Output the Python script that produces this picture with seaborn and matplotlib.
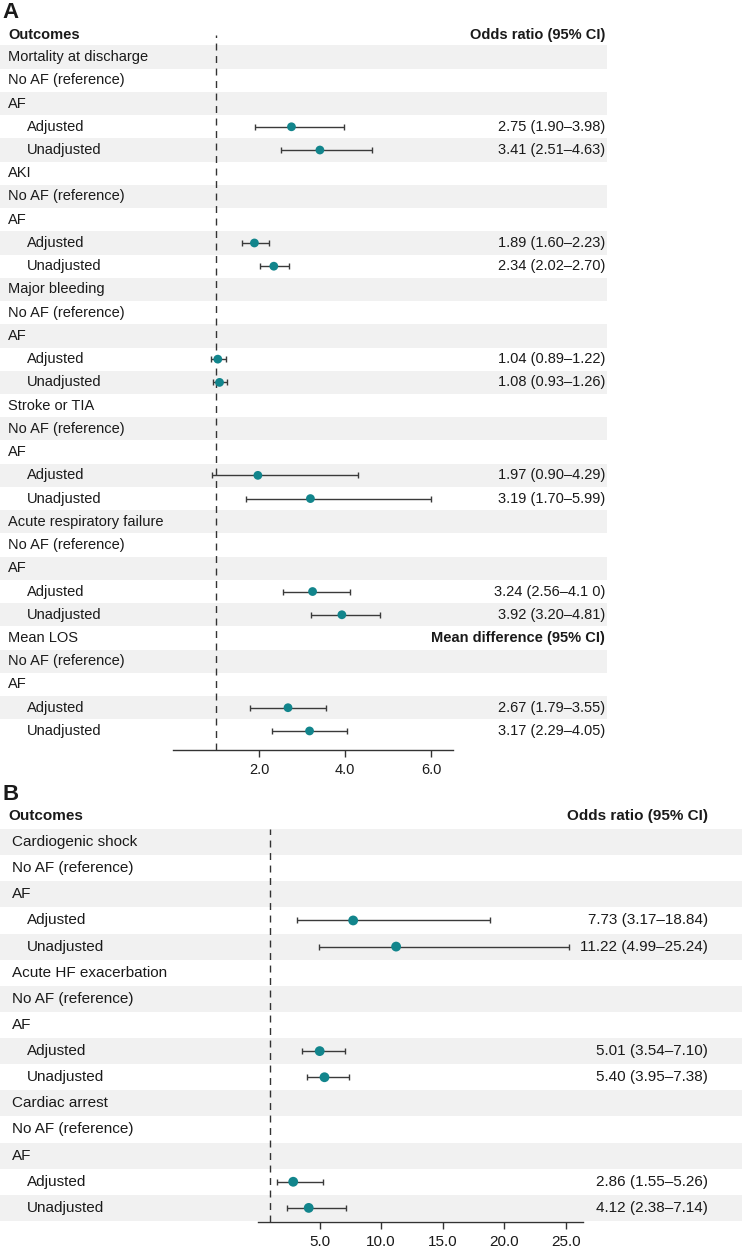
import numpy as np
import pandas as pd
import matplotlib
matplotlib.use("Agg")
import matplotlib.pyplot as plt
import seaborn as sns

# panel A data
outcomes_a = ['Mortality at discharge', 'AKI', 'Major bleeding', 'Stroke or TIA',
              'Acute respiratory failure', 'Mean LOS']
adj_a = [2.75, 1.89, 1.04, 1.97, 3.24, 2.67]
adj_lo_a = [1.90, 1.60, 0.89, 0.90, 2.56, 1.79]
adj_hi_a = [3.98, 2.23, 1.22, 4.29, 4.10, 3.55]
unadj_a = [3.41, 2.34, 1.08, 3.19, 3.92, 3.17]
unadj_lo_a = [2.51, 2.02, 0.93, 1.70, 3.20, 2.29]
unadj_hi_a = [4.63, 2.70, 1.26, 5.99, 4.81, 4.05]
labels_a = ['2.75 (1.90–3.98)', '3.41 (2.51–4.63)',
            '1.89 (1.60–2.23)', '2.34 (2.02–2.70)',
            '1.04 (0.89–1.22)', '1.08 (0.93–1.26)',
            '1.97 (0.90–4.29)', '3.19 (1.70–5.99)',
            '3.24 (2.56–4.1 0)', '3.92 (3.20–4.81)',
            '2.67 (1.79–3.55)', '3.17 (2.29–4.05)']
ticks_a = [2.0, 4.0, 6.0]

# panel B data
outcomes_b = ['Cardiogenic shock', 'Acute HF exacerbation', 'Cardiac arrest']
adj_b = [7.73, 5.01, 2.86]
adj_lo_b = [3.17, 3.54, 1.55]
adj_hi_b = [18.84, 7.10, 5.26]
unadj_b = [11.22, 5.40, 4.12]
unadj_lo_b = [4.99, 3.95, 2.38]
unadj_hi_b = [25.24, 7.38, 7.14]
labels_b = ['7.73 (3.17–18.84)', '11.22 (4.99–25.24)',
            '5.01 (3.54–7.10)', '5.40 (3.95–7.38)',
            '2.86 (1.55–5.26)', '4.12 (2.38–7.14)']
ticks_b = [5.0, 10.0, 15.0, 20.0, 25.0]

sns.set_theme(style="white")
plt.rcParams['font.family'] = ['Liberation Sans', 'DejaVu Sans']

W, H = 742, 1251
fig = plt.figure(figsize=(W / 100, H / 100), dpi=100)

TEAL = '#12858c'
BAND = '#f1f1f1'
INK = '#1a1a1a'


def px_axes(x0, y0, x1, y1):
    return fig.add_axes([x0 / W, 1 - y1 / H, (x1 - x0) / W, (y1 - y0) / H])


def build(outcomes, adj, adj_lo, adj_hi, unadj, unadj_lo, unadj_hi, labels):
    rows = []
    pts = []
    k = 0
    for i, o in enumerate(outcomes):
        base = len(rows)
        rows += [(o, 0), ('No AF (reference)', 0), ('AF', 0), ('Adjusted', 1), ('Unadjusted', 1)]
        pts.append(dict(row=base + 3, est=adj[i], lo=adj_lo[i], hi=adj_hi[i], txt=labels[k]))
        pts.append(dict(row=base + 4, est=unadj[i], lo=unadj_lo[i], hi=unadj_hi[i], txt=labels[k + 1]))
        k += 2
    return rows, pd.DataFrame(pts)


def panel(bg, ax, rows, df, ylim, bg_w, lab_x, right_x, head_row, fs, msize, cap, xlim, ticks,
          extra=None):
    bg.set_xlim(0, bg_w)
    bg.set_ylim(*ylim)
    bg.axis('off')
    for i, (lab, indent) in enumerate(rows):
        if i % 2 == 0:
            bg.axhspan(i - 0.5, i + 0.5, color=BAND, lw=0, zorder=0)
        bg.text(27 if indent else lab_x, i, lab, va='center', ha='left', fontsize=fs, color=INK)
    for _, r in df.iterrows():
        bg.text(right_x, r['row'], r['txt'], va='center', ha='right', fontsize=fs, color=INK)
    bg.text(8, head_row, 'Outcomes', va='center', ha='left', fontsize=fs, fontweight='bold',
            color=INK, clip_on=False)
    bg.text(right_x, head_row, 'Odds ratio (95% CI)', va='center', ha='right', fontsize=fs,
            fontweight='bold', color=INK, clip_on=False)
    if extra is not None:
        bg.text(right_x, extra[0], extra[1], va='center', ha='right', fontsize=fs,
                fontweight='bold', color=INK)

    ax.patch.set_alpha(0)
    ax.set_xlim(*xlim)
    ax.set_ylim(*ylim)
    ax.errorbar(df['est'], df['row'], xerr=[df['est'] - df['lo'], df['hi'] - df['est']],
                fmt='none', ecolor='#3a3a3a', elinewidth=1.0, capsize=cap, capthick=1.0, zorder=2)
    sns.scatterplot(data=df, x='est', y='row', ax=ax, color=TEAL, s=msize, edgecolor='none',
                    zorder=3, legend=False)
    ax.axvline(1.0, color='#333333', lw=1.0, ls=(0, (5, 4)), zorder=1)
    for s in ['top', 'right', 'left']:
        ax.spines[s].set_visible(False)
    ax.spines['bottom'].set_color('#333333')
    ax.spines['bottom'].set_linewidth(1.0)
    ax.set_xticks(ticks)
    ax.set_xticklabels([f'{t:.1f}' for t in ticks])
    ax.set_yticks([])
    ax.set_xlabel('')
    ax.set_ylabel('')
    ax.tick_params(axis='x', bottom=True, length=5, width=1, color='#333333', labelsize=fs,
                   labelcolor=INK, pad=4)


rows_a, df_a = build(outcomes_a, adj_a, adj_lo_a, adj_hi_a, unadj_a, unadj_lo_a, unadj_hi_a, labels_a)
rows_b, df_b = build(outcomes_b, adj_b, adj_lo_b, adj_hi_b, unadj_b, unadj_lo_b, unadj_hi_b, labels_b)

# panel A
ylim_a = (29.82, -0.95)
bg_a = px_axes(0, 35, 607, 750)
ax_a = px_axes(173, 35, 453, 750)
panel(bg_a, ax_a, rows_a, df_a, ylim_a, 607, 8, 605, -0.95, 10.5, 40, 2.0, (0, 6.5), ticks_a,
      extra=(25, 'Mean difference (95% CI)'))

# panel B
ylim_b = (14.54, -0.5)
bg_b = px_axes(0, 829, 742, 1222)
ax_b = px_axes(258, 829, 583, 1222)
panel(bg_b, ax_b, rows_b, df_b, ylim_b, 742, 12, 708, -1.0, 11, 50, 2.3, (0, 26.4), ticks_b)

fig.text(2 / W, 1 - 12 / H, 'A', fontsize=16, fontweight='bold', va='center', ha='left', color=INK)
fig.text(2 / W, 1 - 795 / H, 'B', fontsize=16, fontweight='bold', va='center', ha='left', color=INK)

fig.savefig('out.png', dpi=100)
